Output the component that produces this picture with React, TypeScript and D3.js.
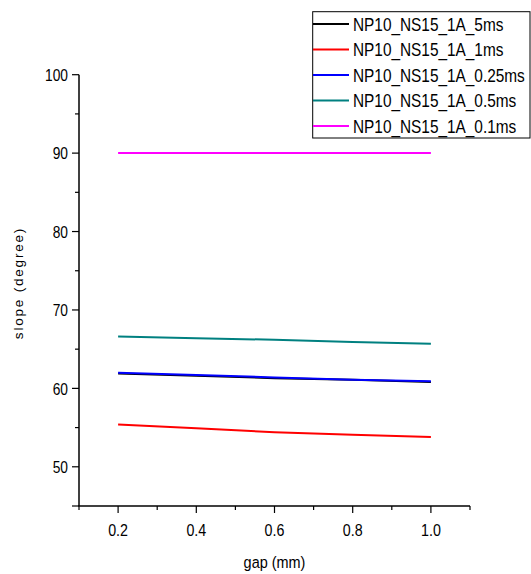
import React from "react";
import * as d3 from "d3";

const gaps = [0.2, 0.4, 0.6, 0.8, 1.0];
const seriesNames = [
  "NP10_NS15_1A_5ms",
  "NP10_NS15_1A_1ms",
  "NP10_NS15_1A_0.25ms",
  "NP10_NS15_1A_0.5ms",
  "NP10_NS15_1A_0.1ms",
];
const seriesColors = ["#000000", "#ff0000", "#0000ff", "#008080", "#ff00ff"];
const slope5ms = [61.9, 61.6, 61.3, 61.1, 60.8];
const slope1ms = [55.4, 54.9, 54.4, 54.1, 53.8];
const slope025ms = [62.0, 61.7, 61.4, 61.1, 60.9];
const slope05ms = [66.6, 66.4, 66.2, 65.9, 65.7];
const slope01ms = [90.0, 90.0, 90.0, 90.0, 90.0];
const seriesValues = [slope5ms, slope1ms, slope025ms, slope05ms, slope01ms];
// drawing order: black first so blue sits on top of it
const drawOrder = [0, 1, 3, 4, 2];

const xMajor = [0.2, 0.4, 0.6, 0.8, 1.0];
const xMinor = [0.1, 0.3, 0.5, 0.7, 0.9, 1.1];
const yMajor = [50, 60, 70, 80, 90, 100];
const yMinor = [55, 65, 75, 85, 95];

const FONT = "'Liberation Sans', Arial, sans-serif";

// condensed sans text (horizontally squeezed regular sans)
function NarrowText(props: {
  x: number;
  y: number;
  size: number;
  anchor?: "start" | "middle" | "end";
  squeeze?: number;
  dy?: string;
  children: React.ReactNode;
}) {
  const s = props.squeeze ?? 0.81;
  return (
    <g transform={`translate(${props.x},${props.y}) scale(${s},1)`}>
      <text
        x={0}
        y={0}
        dy={props.dy}
        textAnchor={props.anchor ?? "start"}
        fontSize={props.size}
        fill="#000"
      >
        {props.children}
      </text>
    </g>
  );
}

export default function App() {
  const W = 531;
  const H = 574;
  const x = d3.scaleLinear().domain([0.1, 1.1]).range([79, 470]);
  const y = d3.scaleLinear().domain([45, 100]).range([506, 74.7]);
  const line = d3
    .line<number>()
    .x((_, i) => x(gaps[i]))
    .y((d) => y(d));

  return (
    <svg
      width={W}
      height={H}
      style={{ position: "absolute", left: 0, top: 0, background: "#fff" }}
      fontFamily={FONT}
    >
      {/* axes */}
      <line x1={79} x2={79} y1={y(100)} y2={506} stroke="#000" strokeWidth={1.5} />
      <line x1={78.25} x2={470} y1={506} y2={506} stroke="#000" strokeWidth={1.5} />

      {yMajor.map((v) => (
        <g key={"ym" + v}>
          <line x1={72} x2={79} y1={y(v)} y2={y(v)} stroke="#000" strokeWidth={1.2} />
          <NarrowText x={68} y={y(v)} dy="0.36em" anchor="end" size={17}>
            {v}
          </NarrowText>
        </g>
      ))}
      {yMinor.map((v) => (
        <line key={"yn" + v} x1={75} x2={79} y1={y(v)} y2={y(v)} stroke="#000" strokeWidth={1.2} />
      ))}
      <line x1={72} x2={79} y1={506} y2={506} stroke="#000" strokeWidth={1.2} />

      {xMajor.map((v) => (
        <g key={"xm" + v}>
          <line x1={x(v)} x2={x(v)} y1={506} y2={513} stroke="#000" strokeWidth={1.2} />
          <NarrowText x={x(v)} y={536} anchor="middle" size={17} squeeze={0.84}>
            {d3.format(".1f")(v)}
          </NarrowText>
        </g>
      ))}
      {xMinor.map((v) => (
        <line key={"xn" + v} x1={x(v)} x2={x(v)} y1={506} y2={510} stroke="#000" strokeWidth={1.2} />
      ))}

      <NarrowText x={274.5} y={568} anchor="middle" size={17} squeeze={0.85}>
        gap (mm)
      </NarrowText>
      <text
        transform="translate(23,283) rotate(-90)"
        textAnchor="middle"
        fontSize={13.5}
        letterSpacing={1.8}
        fill="#000"
      >
        slope (degree)
      </text>

      {/* series */}
      {drawOrder.map((si) => (
        <path
          key={seriesNames[si]}
          d={line(seriesValues[si]) || ""}
          fill="none"
          stroke={seriesColors[si]}
          strokeWidth={2}
        />
      ))}

      {/* legend */}
      <rect x={312.7} y={11.7} width={217.3} height={126.3} fill="#fff" stroke="#000" strokeWidth={1} />
      {seriesNames.map((name, i) => {
        const ly = 24 + i * 25.5;
        return (
          <g key={"lg" + name}>
            <line x1={313} x2={349} y1={ly} y2={ly} stroke={seriesColors[i]} strokeWidth={2} />
            <NarrowText x={353} y={ly} dy="0.36em" size={19}>
              {name}
            </NarrowText>
          </g>
        );
      })}
    </svg>
  );
}
